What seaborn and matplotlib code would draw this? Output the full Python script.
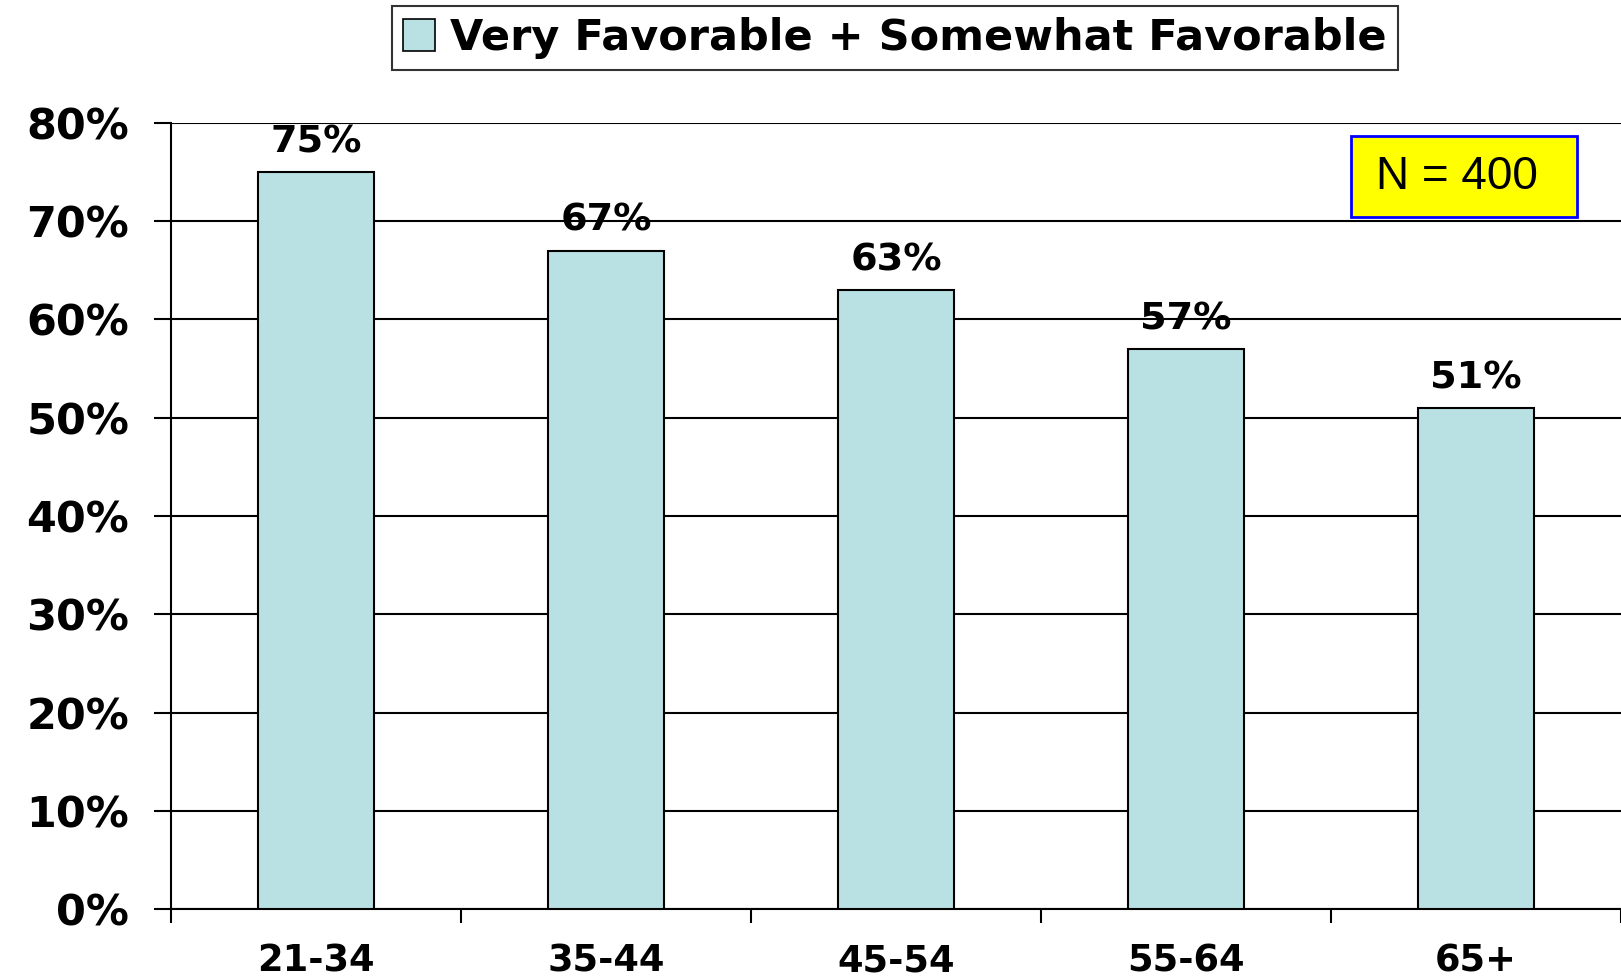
import matplotlib
matplotlib.use("Agg")
import matplotlib.pyplot as plt
import matplotlib.patches as mpatches
import seaborn as sns
import pandas as pd

# Share of respondents rating favorably, by age group
age_groups = ["21-34", "35-44", "45-54", "55-64", "65+"]
favorable_pct = [75, 67, 63, 57, 51]
y_ticks = [0, 10, 20, 30, 40, 50, 60, 70, 80]
series_label = "Very Favorable + Somewhat Favorable"
sample_note = "N = 400"

bar_color = "#B9E0E3"

sns.set_theme(style="white")
plt.rcParams["font.family"] = ["DejaVu Sans"]
plt.rcParams["text.color"] = "black"
plt.rcParams["xtick.color"] = "black"
plt.rcParams["ytick.color"] = "black"
plt.rcParams["axes.labelcolor"] = "black"

W, H = 1621, 980
fig = plt.figure(figsize=(W / 100, H / 100), dpi=100)
ax = fig.add_axes([171 / W, 71 / H, 1 - 171 / W, (909 - 123) / H])

df = pd.DataFrame({"age": age_groups, "pct": favorable_pct})
sns.barplot(data=df, x="age", y="pct", color=bar_color, edgecolor="black",
            linewidth=1.5, width=0.4, saturation=1, ax=ax, zorder=3)

ax.set_ylim(0, 80)
ax.set_xlim(-0.5, 4.479)
ax.set_yticks(y_ticks)
ax.set_yticklabels([f"{t}%" for t in y_ticks], fontsize=31, fontweight="bold")
ax.yaxis.grid(True, color="black", linewidth=1.5, zorder=0)
ax.set_axisbelow(True)

ax.set_xticks(range(len(age_groups)))
ax.set_xticklabels(age_groups, fontsize=26.5, fontweight="bold")
ax.tick_params(axis="x", which="major", length=0, pad=24)
ax.set_xticks([i - 0.5 for i in range(len(age_groups) + 1)], minor=True)
ax.tick_params(axis="x", which="minor", length=10, width=1.5, color="black",
               direction="out", bottom=True)
ax.tick_params(axis="y", length=12, width=1.5, color="black", direction="out",
               pad=18, left=True)
ax.set_xlabel("")
ax.set_ylabel("")

for side in ["top", "right"]:
    ax.spines[side].set_visible(False)
for side in ["left", "bottom"]:
    ax.spines[side].set_visible(True)
    ax.spines[side].set_color("black")
    ax.spines[side].set_linewidth(1.5)

# value labels above each bar
for i, v in enumerate(favorable_pct):
    ax.text(i, v + 1.2, f"{v}%", ha="center", va="bottom",
            fontsize=27.5, fontweight="bold", color="black")

# legend across the top
handle = mpatches.Patch(facecolor=bar_color, edgecolor="black", linewidth=1.2)
leg = fig.legend([handle], [series_label], loc="center",
                 bbox_to_anchor=(895 / W, 1 - 38 / H),
                 prop={"family": "DejaVu Sans", "weight": "bold", "size": 31},
                 frameon=True, fancybox=False, edgecolor="black",
                 handlelength=0.75, handleheight=0.75, handletextpad=0.35,
                 borderpad=0.25, borderaxespad=0)
leg.get_frame().set_linewidth(1.5)

# sample size box
box_x0, box_y0, box_x1, box_y1 = 1351, 136, 1577, 217
fig.patches.append(mpatches.Rectangle(
    (box_x0 / W, 1 - box_y1 / H), (box_x1 - box_x0) / W, (box_y1 - box_y0) / H,
    transform=fig.transFigure, facecolor="#FFFF00", edgecolor="#0000FF",
    linewidth=2, zorder=5))
fig.text(1457 / W, 1 - 177 / H, sample_note, ha="center", va="center",
         fontsize=33, family="Liberation Sans", color="black", zorder=6)

fig.savefig("out.png", dpi=100)
